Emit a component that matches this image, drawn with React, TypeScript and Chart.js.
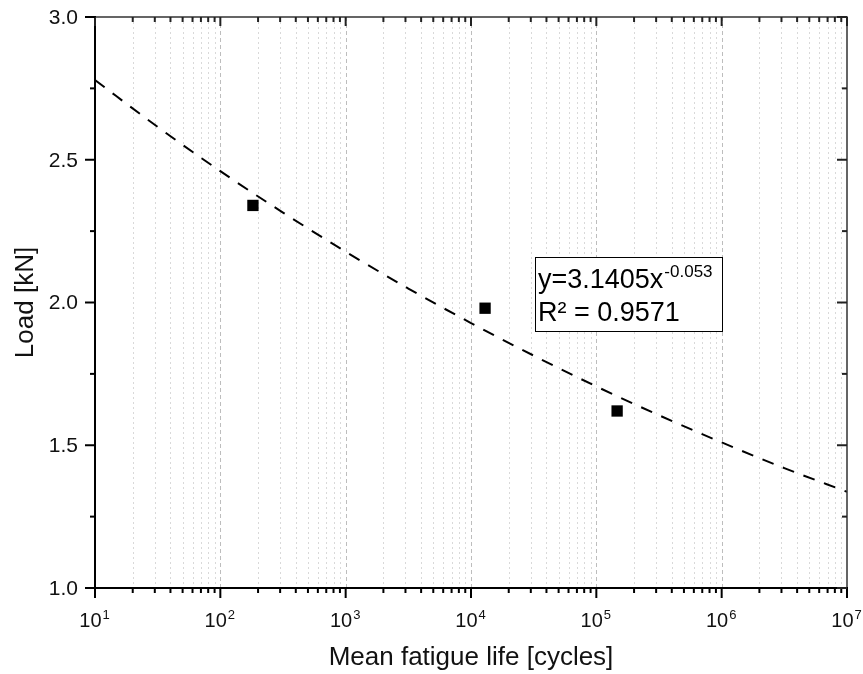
import { useEffect, useRef } from 'react';
import { Chart, registerables } from 'chart.js';

Chart.register(...registerables);

// Measured points (mean fatigue life in cycles, load in kN)
const fatigueLife = [182, 12950, 146500];
const loadKN = [2.34, 1.98, 1.62];

// Power-law fit curve at half-decade steps
const fitLife = [10, 31.62, 100, 316.2, 1000, 3162, 10000, 31623, 100000, 316228, 1000000, 3162278, 10000000];
const fitLoad = [2.779, 2.615, 2.46, 2.315, 2.178, 2.049, 1.928, 1.814, 1.706, 1.605, 1.51, 1.42, 1.337];

// Axis ticks
const xDecadeExponents = [1, 2, 3, 4, 5, 6, 7];
const yMajorTicks = [1.0, 1.5, 2.0, 2.5, 3.0];
const yMinorTicks = [1.25, 1.75, 2.25, 2.75];

// Fit annotation
const fitCoefficient = '3.1405';
const fitExponent = '-0.053';
const fitRSquared = '0.9571';

const xTitle = 'Mean fatigue life [cycles]';
const yTitle = 'Load [kN]';

const FONT = '"Liberation Sans", Arial, Helvetica, sans-serif';

const overlayPlugin = {
  id: 'overlay',
  beforeDatasetsDraw(chart: any) {
    const { ctx, chartArea: a, scales } = chart;
    const x = scales.x;
    ctx.save();
    ctx.lineWidth = 1;
    const decades = xDecadeExponents.slice(0, -1);
    for (const e of decades) {
      for (let m = 1; m <= 9; m++) {
        const v = m * Math.pow(10, e);
        if (v <= 10 || v >= 1e7) continue;
        const px = Math.round(x.getPixelForValue(v)) + 0.5;
        ctx.strokeStyle = m === 1 ? '#bdbdbd' : '#d9d9d9';
        ctx.setLineDash(m === 1 ? [4, 3] : [2, 3]);
        ctx.beginPath();
        ctx.moveTo(px, a.top);
        ctx.lineTo(px, a.bottom);
        ctx.stroke();
      }
    }
    ctx.restore();
  },
  afterDraw(chart: any) {
    const { ctx, chartArea: a, scales } = chart;
    const x = scales.x;
    const y = scales.y;
    ctx.save();
    ctx.setLineDash([]);

    // frame
    ctx.strokeStyle = '#333';
    ctx.lineWidth = 1.5;
    ctx.beginPath();
    ctx.moveTo(a.left, a.top);
    ctx.lineTo(a.right, a.top);
    ctx.lineTo(a.right, a.bottom);
    ctx.stroke();
    ctx.strokeStyle = '#000';
    ctx.lineWidth = 2;
    ctx.beginPath();
    ctx.moveTo(a.left, a.top - 1);
    ctx.lineTo(a.left, a.bottom);
    ctx.lineTo(a.right + 1, a.bottom);
    ctx.stroke();

    // x ticks
    ctx.lineWidth = 2;
    const decades = xDecadeExponents.slice(0, -1);
    const xTicks: { v: number; major: boolean }[] = [];
    for (const e of decades) {
      for (let m = 1; m <= 9; m++) xTicks.push({ v: m * Math.pow(10, e), major: m === 1 });
    }
    xTicks.push({ v: Math.pow(10, xDecadeExponents[xDecadeExponents.length - 1]), major: true });
    for (const t of xTicks) {
      const px = x.getPixelForValue(t.v);
      ctx.strokeStyle = '#000';
      ctx.beginPath();
      ctx.moveTo(px, a.bottom);
      ctx.lineTo(px, a.bottom + (t.major ? 10 : 5));
      ctx.stroke();
      ctx.strokeStyle = '#222';
      ctx.beginPath();
      ctx.moveTo(px, a.top);
      ctx.lineTo(px, a.top + (t.major ? 9 : 5));
      ctx.stroke();
    }

    // y ticks
    const yTicks = [
      ...yMajorTicks.map((v) => ({ v, major: true })),
      ...yMinorTicks.map((v) => ({ v, major: false })),
    ];
    for (const t of yTicks) {
      const py = y.getPixelForValue(t.v);
      ctx.strokeStyle = '#000';
      ctx.beginPath();
      ctx.moveTo(a.left, py);
      ctx.lineTo(a.left - (t.major ? 10 : 5), py);
      ctx.stroke();
      ctx.strokeStyle = '#222';
      ctx.beginPath();
      ctx.moveTo(a.right, py);
      ctx.lineTo(a.right - (t.major ? 10 : 5), py);
      ctx.stroke();
    }

    // y tick labels
    ctx.fillStyle = '#111';
    ctx.font = `21px ${FONT}`;
    ctx.textAlign = 'right';
    ctx.textBaseline = 'middle';
    for (const v of yMajorTicks) {
      ctx.fillText(v.toFixed(1), a.left - 17, y.getPixelForValue(v) + 1);
    }

    // x tick labels: 10^n
    ctx.textBaseline = 'alphabetic';
    ctx.textAlign = 'left';
    for (const e of xDecadeExponents) {
      const px = x.getPixelForValue(Math.pow(10, e));
      ctx.font = `20px ${FONT}`;
      const wBase = ctx.measureText('10').width;
      ctx.font = `13px ${FONT}`;
      const wExp = ctx.measureText(String(e)).width;
      const start = px - (wBase + wExp) / 2 - 1;
      ctx.font = `20px ${FONT}`;
      ctx.fillText('10', start, a.bottom + 39);
      ctx.font = `13px ${FONT}`;
      ctx.fillText(String(e), start + wBase + 1, a.bottom + 31);
    }

    // axis titles
    ctx.font = `26px ${FONT}`;
    ctx.textAlign = 'center';
    ctx.fillText(xTitle, (a.left + a.right) / 2, a.bottom + 77);
    ctx.save();
    ctx.translate(33, (a.top + a.bottom) / 2);
    ctx.rotate(-Math.PI / 2);
    ctx.fillText(yTitle, 0, 0);
    ctx.restore();

    // fit annotation box
    const bx = a.left + 440;
    const by = a.top + 240;
    const bw = 187;
    const bh = 74;
    ctx.fillStyle = '#fff';
    ctx.fillRect(bx, by, bw, bh);
    ctx.strokeStyle = '#000';
    ctx.lineWidth = 1;
    ctx.strokeRect(bx + 0.5, by + 0.5, bw, bh);
    ctx.fillStyle = '#000';
    ctx.textAlign = 'left';
    ctx.font = `27px ${FONT}`;
    const line1 = `y=${fitCoefficient}x`;
    ctx.fillText(line1, bx + 3, by + 31);
    const w1 = ctx.measureText(line1).width;
    ctx.font = `17px ${FONT}`;
    ctx.fillText(fitExponent, bx + 4 + w1, by + 20);
    ctx.font = `27px ${FONT}`;
    ctx.fillText(`R\u00B2 = ${fitRSquared}`, bx + 3, by + 64);

    ctx.restore();
  },
};

export default function App() {
  const canvasRef = useRef<HTMLCanvasElement | null>(null);

  useEffect(() => {
    document.body.style.margin = '0';
    const canvas = canvasRef.current;
    if (!canvas) return;
    const chart = new Chart(canvas, {
      type: 'scatter',
      data: {
        datasets: [
          {
            label: 'fit',
            data: fitLife.map((v, i) => ({ x: v, y: fitLoad[i] })),
            showLine: true,
            borderColor: '#000',
            borderWidth: 2,
            borderDash: [12, 10],
            pointRadius: 0,
            cubicInterpolationMode: 'monotone',
            fill: false,
          },
          {
            label: 'data',
            data: fatigueLife.map((v, i) => ({ x: v, y: loadKN[i] })),
            pointStyle: 'rect',
            pointRadius: 8,
            backgroundColor: '#000',
            borderColor: '#000',
            borderWidth: 0,
          },
        ],
      },
      options: {
        responsive: false,
        animation: false,
        devicePixelRatio: 1,
        layout: { padding: { top: 17, right: 16, left: 0, bottom: 0 } },
        plugins: { legend: { display: false }, tooltip: { enabled: false }, title: { display: false } },
        scales: {
          x: {
            type: 'logarithmic',
            min: 10,
            max: 1e7,
            ticks: { display: false },
            grid: { display: false },
            border: { display: false },
            afterFit: (s: any) => {
              s.height = 86;
            },
          },
          y: {
            type: 'linear',
            min: 1,
            max: 3,
            ticks: { display: false },
            grid: { display: false },
            border: { display: false },
            afterFit: (s: any) => {
              s.width = 95;
            },
          },
        },
      } as any,
      plugins: [overlayPlugin],
    });
    return () => chart.destroy();
  }, []);

  return (
    <div style={{ width: 863, height: 674, background: '#fff' }}>
      <canvas ref={canvasRef} width={863} height={674} style={{ display: 'block' }} />
    </div>
  );
}
